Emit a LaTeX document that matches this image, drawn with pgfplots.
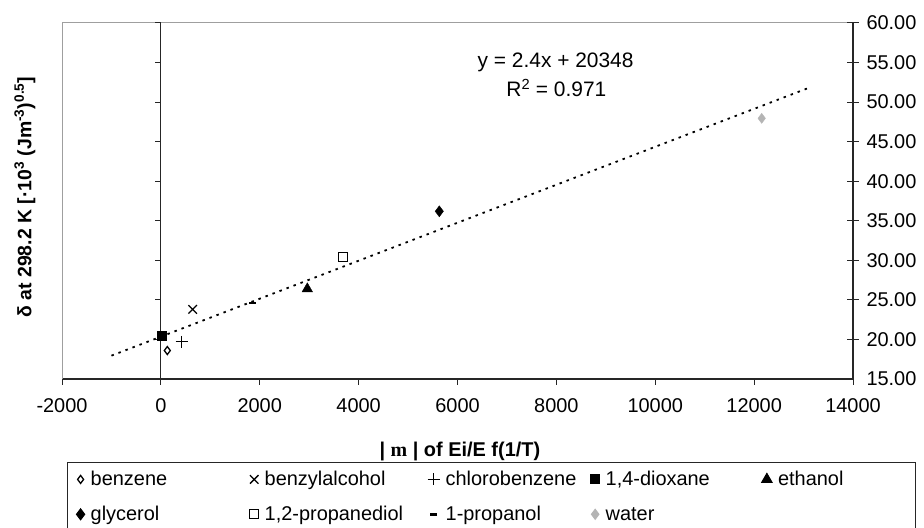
\documentclass[border=0pt]{standalone}
\usepackage{pgfplots}
\pgfplotsset{compat=1.18}
\usepackage{fontspec}
\setmainfont{Liberation Sans}
\newfontfamily\serifm{Liberation Serif}
\definecolor{watergray}{HTML}{B4B4B4}
\newcommand{\lgb}[2][156bp]{\makebox[#1][l]{\hspace{4bp}#2}}
\begin{document}
\begin{tikzpicture}[x=1bp,y=1bp,font=\fontsize{20}{23}\selectfont]
\useasboundingbox (0,0) rectangle (924,528);
\begin{axis}[
  at={(62bp,149bp)}, anchor=south west,
  scale only axis, width=791bp, height=356bp,
  xmin=-2000, xmax=14000, ymin=15, ymax=60,
  axis x line=bottom, axis y line=right,
  x axis line style={-, black!85, line width=1.2bp},
  y axis line style={-, black!85, line width=1.2bp},
  xtick={-2000,0,2000,4000,6000,8000,10000,12000,14000},
  ytick={15,20,25,30,35,40,45,50,55,60},
  scaled x ticks=false, scaled y ticks=false,
  xtick align=outside, major tick length=6bp,
  xtick style={black!85, line width=1bp},
  ytick style={draw=none},
  /pgf/number format/assume math mode=true,
  xticklabel style={/pgf/number format/.cd, set thousands separator={}, /tikz/.cd, font=\fontsize{20}{23}\selectfont, yshift=-10bp},
  yticklabel style={/pgf/number format/.cd, fixed, fixed zerofill, precision=2, /tikz/.cd, font=\fontsize{20}{23}\selectfont, xshift=7bp},
  clip=false,
  legend columns=5,
  legend cell align=left,
  legend style={at={(axis description cs:0.0063,-0.233)}, anchor=north west,
    draw=black!85, line width=1bp, font=\fontsize{20}{23}\selectfont,
    inner xsep=9bp, inner ysep=7bp, row sep=15bp,
    /tikz/every odd column/.append style={column sep=0bp}},
]
% frame (top and left, grey)
\draw[gray!75, line width=1bp] (rel axis cs:0,0) -- (rel axis cs:0,1) -- (rel axis cs:1,1);
% vertical line at x = 0 with ticks pointing left
\draw[black!85, line width=1.2bp] (axis cs:0,15) -- (axis cs:0,60);
\pgfplotsinvokeforeach{20,25,30,35,40,45,50,55,60}{
  \draw[black!85, line width=1bp] (axis cs:0,#1) -- ++(-6bp,0bp);
  \draw[black!85, line width=1bp] (axis cs:14000,#1) ++(-6bp,0bp) -- ++(12bp,0bp);
}

\addplot[only marks, mark=diamond, mark size=4bp, mark options={line width=1.3bp, fill=white}, black] coordinates {(130,18.6)};
\addlegendentry{\lgb[161bp]{benzene}}
\addplot[only marks, mark=x, mark size=6bp, mark options={line width=1.3bp}, black] coordinates {(643,23.8)};
\addlegendentry{\lgb[165bp]{benzylalcohol}}
\addplot[only marks, mark=+, mark size=6bp, mark options={line width=1.2bp}, black] coordinates {(421,19.7)};
\addlegendentry{\lgb[147bp]{chlorobenzene}}
\addplot[only marks, mark=square*, mark size=4.5bp, black] coordinates {(20,20.5)};
\addlegendentry{\lgb[158bp]{1,4-dioxane}}
\addplot[only marks, mark=triangle*, mark size=6bp, black] coordinates {(2962,26.4)};
\addlegendentry{\lgb[130bp]{ethanol}}
\addplot[only marks, mark=diamond*, mark size=5.5bp, black] coordinates {(5632,36.2)};
\addlegendentry{\lgb[161bp]{glycerol}}
\addplot[only marks, mark=square, mark size=4.5bp, mark options={line width=1.3bp, fill=white}, black] coordinates {(3690,30.4)};
\addlegendentry{\lgb[165bp]{1,2-propanediol}}
\addplot[only marks, mark=-, mark size=3.5bp, mark options={line width=2.5bp}, black] coordinates {(1849,24.6)};
\addlegendentry{\lgb[147bp]{1-propanol}}
\addplot[only marks, mark=diamond*, mark size=5bp, watergray] coordinates {(12153,47.95)};
\addlegendentry{\lgb[158bp]{water}}

% linear trend line y = 2.4x + 20348 (x 10^-3)
\addplot[forget plot, black, line width=1.8bp, dash pattern=on 2.5bp off 5bp] coordinates {(-1000,17.95) (13100,51.79)};

\node[anchor=center, font=\fontsize{21}{24}\selectfont] at (rel axis cs:0.624,0.888) {y = 2.4x + 20348};
\node[anchor=center, font=\fontsize{21}{24}\selectfont] at (rel axis cs:0.625,0.818) {R\textsuperscript{2} = 0.971};
\node[anchor=center, font=\fontsize{20}{23}\selectfont\bfseries] at (rel axis cs:0.503,-0.205) {| {\serifm m} | of Ei/E f(1/T)};
\node[anchor=center, rotate=90, font=\fontsize{19.5}{22}\selectfont\bfseries] at (rel axis cs:-0.0468,0.511) {δ at 298.2 K [·10\textsuperscript{3} (Jm\textsuperscript{-3})\textsuperscript{0.5}]};
\end{axis}
\end{tikzpicture}
\end{document}
